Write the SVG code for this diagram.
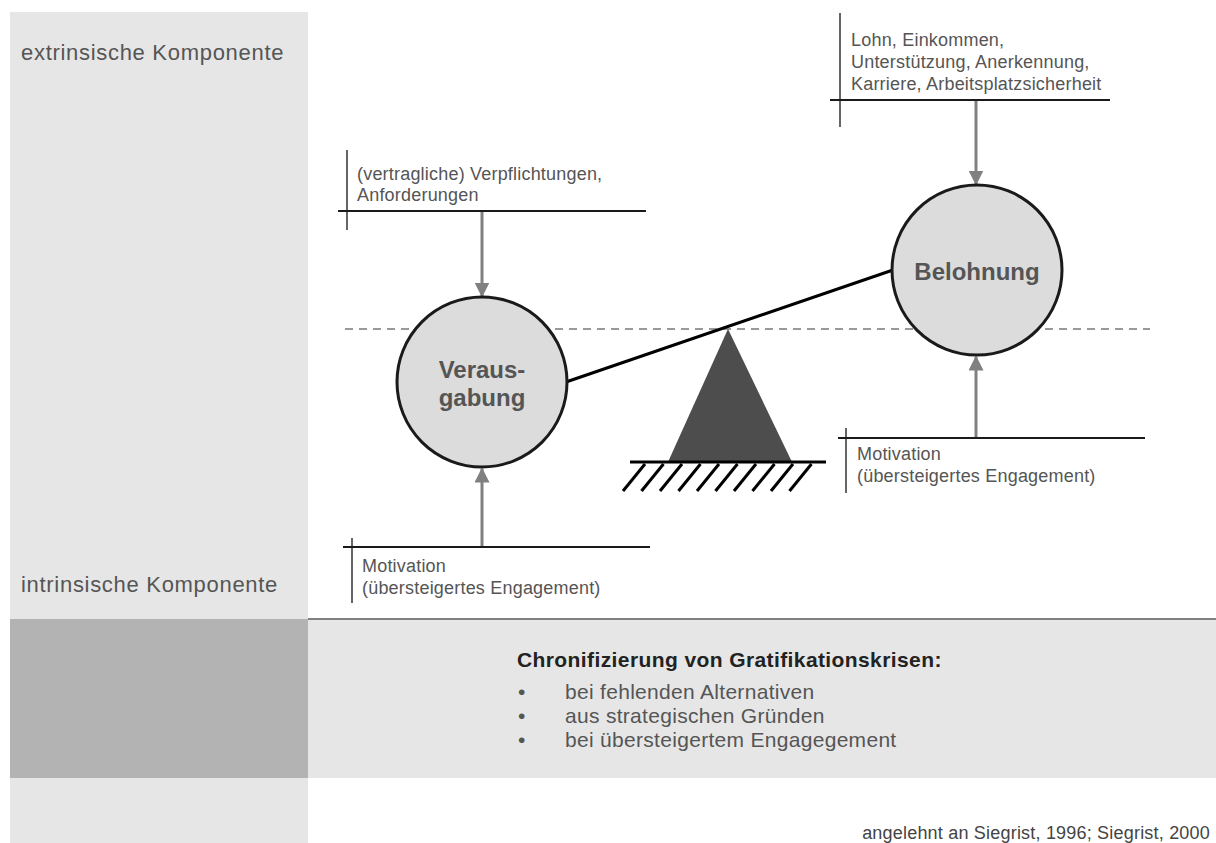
<svg xmlns="http://www.w3.org/2000/svg" width="1216" height="843" viewBox="0 0 1216 843">
<defs>
<style>
.t{font-family:"Liberation Sans",Arial,sans-serif;fill:#555;}
.lbl{font-size:18px;letter-spacing:0.2px;}
.side{font-size:22px;letter-spacing:0.7px;}
.node{font-size:24px;font-weight:bold;text-anchor:middle;}
.circ{fill:#dcdcdc;stroke:#1a1a1a;stroke-width:3;}
.rule{stroke:#1a1a1a;stroke-width:2;}
.tick{stroke:#666;stroke-width:2;}
.arr{stroke:#808080;stroke-width:3;fill:none;}
.hatch{stroke:#000;stroke-width:3;}
</style>
<marker id="ah" viewBox="0 0 10 10" refX="9" refY="5" markerWidth="5" markerHeight="5" orient="auto" markerUnits="strokeWidth">
<path d="M0,0 L10,5 L0,10 z" fill="#808080"/>
</marker>
</defs>
<rect width="1216" height="843" fill="#fff"/>
<g id="background">
<rect x="10" y="12" width="298" height="607" fill="#e6e6e6"/>
<rect x="10" y="619" width="298" height="159" fill="#b3b3b3"/>
<rect x="10" y="778" width="298" height="65" fill="#e6e6e6"/>
<rect x="308" y="619" width="908" height="159" fill="#e6e6e6"/>
<line x1="308" y1="619" x2="1216" y2="619" stroke="#808080" stroke-width="2"/>
</g>
<g id="side-labels">
<text class="t side" x="21" y="60">extrinsische Komponente</text>
<text class="t side" x="21" y="592">intrinsische Komponente</text>
</g>
<line id="baseline" x1="345" y1="329" x2="1150" y2="329" stroke="#999" stroke-width="2" stroke-dasharray="8,6"/>
<g id="fulcrum">
<polygon points="728,329 668,462 792,462" fill="#4d4d4d"/>
<line x1="630" y1="462" x2="826" y2="462" stroke="#000" stroke-width="3"/>
<g class="hatch">
<line x1="623" y1="491" x2="645" y2="464"/>
<line x1="641.5" y1="491" x2="663.5" y2="464"/>
<line x1="660" y1="491" x2="682" y2="464"/>
<line x1="678.5" y1="491" x2="700.5" y2="464"/>
<line x1="697" y1="491" x2="719" y2="464"/>
<line x1="715.5" y1="491" x2="737.5" y2="464"/>
<line x1="734" y1="491" x2="756" y2="464"/>
<line x1="752.5" y1="491" x2="774.5" y2="464"/>
<line x1="771" y1="491" x2="793" y2="464"/>
<line x1="789.5" y1="491" x2="811.5" y2="464"/>
</g>
</g>
<g id="connectors">
<line id="beam" x1="566" y1="382" x2="893" y2="270" stroke="#000" stroke-width="3"/>
<line class="arr" x1="482" y1="212" x2="482" y2="296" marker-end="url(#ah)"/>
<line class="arr" x1="482" y1="546" x2="482" y2="469" marker-end="url(#ah)"/>
<line class="arr" x1="976" y1="101" x2="976" y2="184" marker-end="url(#ah)"/>
<line class="arr" x1="976" y1="437" x2="976" y2="357" marker-end="url(#ah)"/>
</g>
<g id="verausgabung">
<circle class="circ" cx="482" cy="382" r="85"/>
<text class="t node" x="482" y="378">Veraus-</text>
<text class="t node" x="482" y="406">gabung</text>
</g>
<g id="belohnung">
<circle class="circ" cx="977" cy="270" r="85"/>
<text class="t node" x="977" y="280">Belohnung</text>
</g>
<g id="label-demands">
<line class="tick" x1="347" y1="150" x2="347" y2="230"/>
<line class="rule" x1="338" y1="211" x2="646" y2="211"/>
<text class="t lbl" x="357" y="180">(vertragliche) Verpflichtungen,</text>
<text class="t lbl" x="357" y="201">Anforderungen</text>
</g>
<g id="label-rewards">
<line class="tick" x1="840" y1="13" x2="840" y2="127"/>
<line class="rule" x1="830" y1="100" x2="1110" y2="100"/>
<text class="t lbl" x="851" y="46">Lohn, Einkommen,</text>
<text class="t lbl" x="851" y="68">Unterstützung, Anerkennung,</text>
<text class="t lbl" x="851" y="90">Karriere, Arbeitsplatzsicherheit</text>
</g>
<g id="label-motivation-left">
<line class="tick" x1="352" y1="538" x2="352" y2="603"/>
<line class="rule" x1="343" y1="547" x2="650" y2="547"/>
<text class="t lbl" x="362" y="572">Motivation</text>
<text class="t lbl" x="362" y="594">(übersteigertes Engagement)</text>
</g>
<g id="label-motivation-right">
<line class="tick" x1="846" y1="428" x2="846" y2="493"/>
<line class="rule" x1="838" y1="438" x2="1145" y2="438"/>
<text class="t lbl" x="857" y="460">Motivation</text>
<text class="t lbl" x="857" y="482">(übersteigertes Engagement)</text>
</g>
<g id="chronification">
<text x="517" y="667" style="font-family:'Liberation Sans',Arial,sans-serif;font-size:21px;letter-spacing:0.4px;font-weight:bold;fill:#222">Chronifizierung von Gratifikationskrisen:</text>
<g class="t" style="font-size:21px;letter-spacing:0.3px">
<text x="518" y="699">•</text><text x="565" y="699">bei fehlenden Alternativen</text>
<text x="518" y="723">•</text><text x="565" y="723">aus strategischen Gründen</text>
<text x="518" y="747">•</text><text x="565" y="747">bei übersteigertem Engagegement</text>
</g>
</g>
<text id="citation" class="t" x="1210" y="839" text-anchor="end" style="font-size:18px;letter-spacing:0.2px;fill:#444">angelehnt an Siegrist, 1996; Siegrist, 2000</text>
</svg>
